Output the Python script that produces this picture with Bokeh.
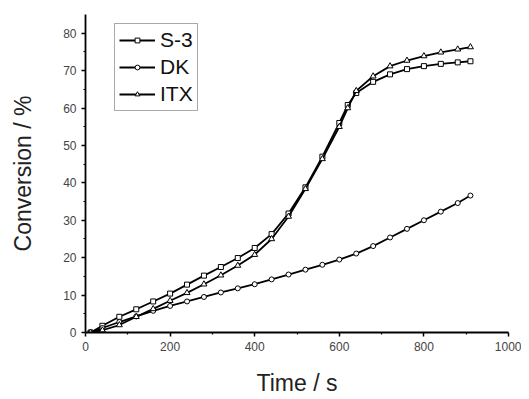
from bokeh.plotting import figure
from bokeh.models import Range1d, FixedTicker, Legend, LegendItem
from bokeh.embed import file_html
from bokeh.resources import INLINE

# ---- data ----
s3_t = [12, 40, 80, 120, 160, 200, 240, 280, 320, 360, 400, 440, 480, 520, 560, 600, 620, 640, 680, 720, 760, 800, 840, 880, 910]
s3_y = [0, 1.8, 4.2, 6.2, 8.3, 10.4, 12.8, 15.2, 17.5, 19.9, 22.6, 26.3, 31.8, 38.8, 47.0, 56.0, 60.8, 64.0, 67.0, 69.0, 70.4, 71.2, 71.8, 72.2, 72.5]

dk_t = [12, 40, 80, 120, 160, 200, 240, 280, 320, 360, 400, 440, 480, 520, 560, 600, 640, 680, 720, 760, 800, 840, 880, 910]
dk_y = [0, 1.2, 2.8, 4.3, 5.8, 7.1, 8.3, 9.5, 10.7, 11.8, 12.9, 14.2, 15.5, 16.8, 18.1, 19.5, 21.1, 23.1, 25.4, 27.7, 30.0, 32.3, 34.6, 36.6]

itx_t = [12, 40, 80, 120, 160, 200, 240, 280, 320, 360, 400, 440, 480, 520, 560, 600, 620, 640, 680, 720, 760, 800, 840, 880, 910]
itx_y = [0, 0.6, 2.0, 4.2, 6.3, 8.5, 10.6, 12.9, 15.3, 17.9, 20.8, 25.0, 31.0, 38.4, 46.4, 55.0, 60.0, 64.6, 68.5, 71.2, 72.7, 73.9, 74.9, 75.7, 76.3]

x_ticks = [0, 200, 400, 600, 800, 1000]
y_ticks = [0, 10, 20, 30, 40, 50, 60, 70, 80]
x_minor = [100, 300, 500, 700, 900]
y_minor = [5, 15, 25, 35, 45, 55, 65, 75]

FONT = "Liberation Sans"

p = figure(width=521, height=399, output_backend="svg", toolbar_location=None,
           x_range=Range1d(0, 1000), y_range=Range1d(0, 85),
           min_border_left=85, min_border_right=13, min_border_top=14, min_border_bottom=67)
p.outline_line_color = None
p.xgrid.visible = False
p.ygrid.visible = False
p.background_fill_color = "white"

lw = 1.8
r1l = p.line(s3_t, s3_y, line_color="black", line_width=lw)
r1m = p.scatter(s3_t, s3_y, marker="square", size=5, fill_color="white", line_color="black", line_width=1)
r2l = p.line(dk_t, dk_y, line_color="black", line_width=lw)
r2m = p.scatter(dk_t, dk_y, marker="circle", size=5, fill_color="white", line_color="black", line_width=1)
r3l = p.line(itx_t, itx_y, line_color="black", line_width=lw)
r3m = p.scatter(itx_t, itx_y, marker="triangle", size=6, fill_color="white", line_color="black", line_width=1)

for ax, ticks, minor in ((p.xaxis[0], x_ticks, x_minor), (p.yaxis[0], y_ticks, y_minor)):
    ax.ticker = FixedTicker(ticks=ticks, minor_ticks=minor)
    ax.axis_line_color = "black"
    ax.axis_line_width = 1.8
    ax.major_tick_line_color = "black"
    ax.major_tick_line_width = 1.5
    ax.major_tick_out = 4
    ax.major_tick_in = 0
    ax.minor_tick_line_color = "black"
    ax.minor_tick_line_width = 1.2
    ax.minor_tick_out = 2
    ax.minor_tick_in = 0
    ax.major_label_text_font = FONT
    ax.major_label_text_font_size = "12px"
    ax.major_label_text_color = "#444444"
    ax.axis_label_text_font = FONT
    ax.axis_label_text_font_size = "23px"
    ax.axis_label_text_font_style = "normal"
    ax.axis_label_text_color = "#222222"

p.xaxis[0].axis_label = "Time / s"
p.yaxis[0].axis_label = "Conversion / %"
p.xaxis[0].axis_label_standoff = 16
p.yaxis[0].axis_label_standoff = 24
p.xaxis[0].major_label_standoff = 5
p.yaxis[0].major_label_standoff = 5

legend = Legend(items=[
    LegendItem(label="S-3", renderers=[r1l, r1m]),
    LegendItem(label="DK", renderers=[r2l, r2m]),
    LegendItem(label="ITX", renderers=[r3l, r3m]),
], location=(29, 221))
legend.label_text_font = FONT
legend.label_text_font_size = "21px"
legend.label_text_color = "#111111"
legend.glyph_width = 36
legend.glyph_height = 12
legend.label_height = 22
legend.label_standoff = 5
legend.spacing = 3
legend.padding = 4
legend.margin = 0
legend.border_line_color = "#555555"
legend.border_line_width = 1.2
legend.background_fill_alpha = 1
p.add_layout(legend)

open("out.html", "w").write(file_html(p, INLINE))
